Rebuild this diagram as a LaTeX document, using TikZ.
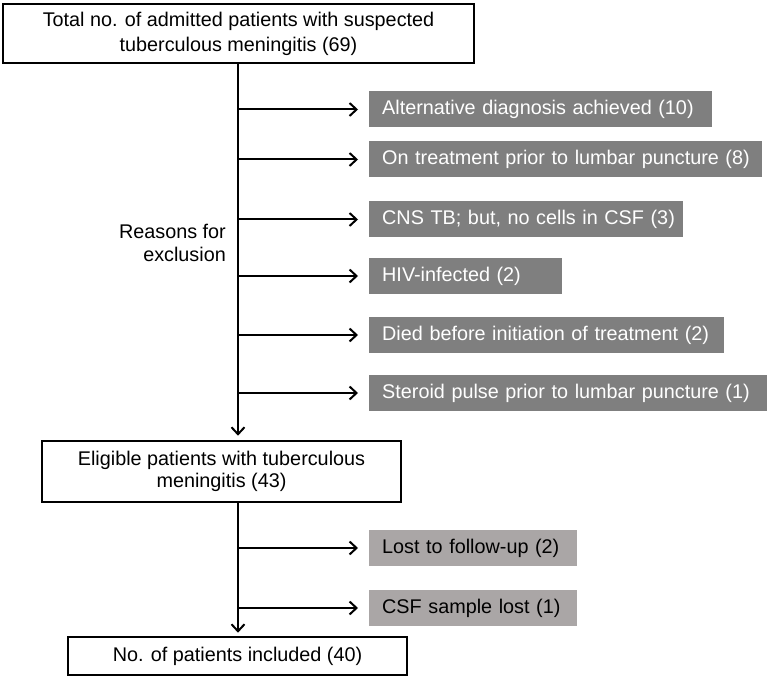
\documentclass[tikz,border=0pt]{standalone}
\usepackage{fontspec}
\setmainfont{Liberation Sans}
\usetikzlibrary{arrows.meta}
\definecolor{darkbox}{RGB}{127,127,127}
\definecolor{lightbox}{RGB}{170,166,166}
\begin{document}
\begin{tikzpicture}[x=1pt,y=1pt,
  font=\fontsize{19.8}{23}\selectfont,
  mainbox/.style={draw=black,line width=2.6pt,align=center,inner sep=0pt},
  sidebox/.style={anchor=west,minimum height=36pt,inner xsep=13pt,inner ysep=0pt,align=left},
  darkbx/.style={sidebox,fill=darkbox,text=white},
  lightbx/.style={sidebox,fill=lightbox,text=black},
  arr/.style={line width=2pt,-{Straight Barb[length=7pt,width=13pt,line width=2pt]}}]
\useasboundingbox (0,0) rectangle (769,-679);
% main boxes
\node[mainbox,minimum width=471pt,minimum height=59pt,font=\fontsize{19.8}{25}\selectfont] (top) at (238.5,-33.5)
  {Total no. of admitted patients with suspected\\tuberculous meningitis (69)};
\node[mainbox,minimum width=359pt,minimum height=61pt,font=\fontsize{19.8}{21.5}\selectfont] (elig) at (221.5,-471.5)
  {Eligible patients with tuberculous\\meningitis (43)};
\node[mainbox,minimum width=339pt,minimum height=38pt] (incl) at (237.5,-656)
  {No. of patients included (40)};
% exclusion boxes
\node[darkbx,text width=317pt] (g1) at (369,-109.5) {\mbox{Alternative diagnosis achieved (10)}};
\node[darkbx,text width=367pt] (g2) at (369,-159.5) {\mbox{On treatment prior to lumbar puncture (8)}};
\node[darkbx,text width=288pt] (g3) at (369,-219.5) {\mbox{CNS TB; but, no cells in CSF (3)}};
\node[darkbx,text width=167pt] (g4) at (369,-276) {\mbox{HIV-infected (2)}};
\node[darkbx,text width=329pt] (g5) at (369,-335) {\mbox{Died before initiation of treatment (2)}};
\node[darkbx,text width=372pt] (g6) at (369,-393) {\mbox{Steroid pulse prior to lumbar puncture (1)}};
\node[lightbx,text width=182pt] (l1) at (369,-548) {\mbox{Lost to follow-up (2)}};
\node[lightbx,text width=182pt] (l2) at (369,-608) {\mbox{CSF sample lost (1)}};
% label
\node[align=right,anchor=east,inner sep=0pt] (reason) at (226,-243) {Reasons for\\exclusion};
% trunk
\draw[arr] (top.south -| 238,0) -- ([yshift=4pt]elig.north -| 238,0);
\draw[arr] (elig.south -| 238,0) -- ([yshift=3pt]incl.north -| 238,0);
% branch points
\foreach \n in {1,...,6}{
  \coordinate (b\n) at (g\n.west -| 238,0);
  \draw[arr] (b\n) -- ([xshift=-11pt]g\n.west);
}
\foreach \n in {1,2}{
  \coordinate (c\n) at (l\n.west -| 238,0);
  \draw[arr] (c\n) -- ([xshift=-11pt]l\n.west);
}
\end{tikzpicture}
\end{document}
